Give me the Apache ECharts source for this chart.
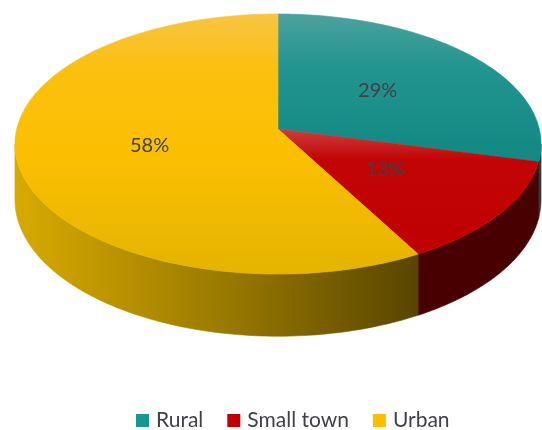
<!DOCTYPE html>
<html>
<head>
<meta charset="utf-8">
<script src="https://cdn.jsdelivr.net/npm/echarts@6/dist/echarts.min.js"></script>
<style>
  html, body { margin: 0; padding: 0; background: #fff; }
  #main { width: 542px; height: 430px; }
</style>
</head>
<body>
<div id="main"></div>
<script>
const categories = ["Rural", "Small town", "Urban"];
const values = [29, 13, 58];

const chart = echarts.init(document.getElementById("main"));

// look of the fake 3d pie
const legendColors = ["#1a9690", "#c00000", "#fbbf00"];
const topStops = [
  [[0, "#4da19d"], [0.2, "#239590"], [0.5, "#148a85"], [1, "#128884"]],
  [[0, "#d04040"], [0.45, "#cc3a3a"], [0.56, "#c20404"], [1, "#c00000"]],
  [[0, "#f8c444"], [0.2, "#fbc010"], [0.55, "#fbbf00"], [1, "#e4b400"]],
];
const sideStops = [
  [[0, "#0c5e5a"], [1, "#0a4e4b"]],
  [[0, "#520000"], [1, "#480000"]],
  [[0, "#d8aa00"], [0.5, "#9c7c00"], [1, "#594500"]],
];

// simple perspective: far half of the disc shrinks a little
const geo = { cx: 278, cy: 129, a: 261.3, b: 128.3, p: 0.1154, depth: 55 };
const edgeAngle = Math.acos(-geo.p); // where the outline is widest

const project = (t, f) => {
  const w = 1 + geo.p * f * Math.cos(t);
  return [geo.cx + (geo.a * f * Math.sin(t)) / w, geo.cy - (geo.b * f * Math.cos(t)) / w, w];
};

const arcPoints = (a, b) => {
  const pts = [];
  const n = Math.max(4, Math.ceil((b - a) / 0.02));
  for (let k = 0; k <= n; k++) pts.push(project(a + ((b - a) * k) / n, 1));
  return pts;
};

const renderSlice = (idx) => (params, api) => {
  const total = values.reduce((s, v) => s + v, 0);
  let before = 0;
  for (let j = 0; j < idx; j++) before += values[j];
  const a0 = (before / total) * Math.PI * 2;
  const a1 = ((before + api.value(0)) / total) * Math.PI * 2;

  const topFill = new echarts.graphic.LinearGradient(0, 14, 0, 274,
    topStops[idx].map(s => ({ offset: s[0], color: s[1] })), true);
  const children = [];

  // front wall, only the part below the widest points shows
  const s = Math.max(a0, edgeAngle), e = Math.min(a1, Math.PI * 2 - edgeAngle);
  if (e > s) {
    const upper = arcPoints(s, e);
    const lower = upper.map(p => [p[0], p[1] + geo.depth / p[2]]).reverse();
    const sideFill = new echarts.graphic.LinearGradient(15, 0, 417, 0,
      sideStops[idx].map(st => ({ offset: st[0], color: st[1] })), true);
    children.push({
      type: "polygon",
      z2: 1,
      shape: { points: upper.map(p => [p[0], p[1]]).concat(lower) },
      style: { fill: sideFill, stroke: sideFill, lineWidth: 0.6 },
    });
  }

  children.push({
    type: "polygon",
    z2: 10,
    shape: { points: [[geo.cx, geo.cy]].concat(arcPoints(a0, a1).map(p => [p[0], p[1]])) },
    style: { fill: topFill, stroke: topFill, lineWidth: 0.6 },
  });

  const lp = project((a0 + a1) / 2, 0.5);
  children.push({
    type: "text",
    z2: 20,
    x: lp[0],
    y: lp[1],
    style: {
      text: Math.round((api.value(0) / total) * 100) + "%",
      fill: "#404048",
      font: "20px Lato",
      align: "center",
      verticalAlign: "middle",
    },
  });

  return { type: "group", children: children };
};

option = {
  animation: false,
  legend: {
    top: 405,
    left: 131,
    icon: "rect",
    itemWidth: 13,
    itemHeight: 13,
    itemGap: 24,
    textStyle: { fontFamily: "Lato", fontSize: 21, color: "#404048", padding: [0, 0, 0, 2] },
    data: categories,
  },
  series: categories.map((name, i) => ({
    name: name,
    type: "custom",
    coordinateSystem: "none",
    itemStyle: { color: legendColors[i] },
    renderItem: renderSlice(i),
    data: [[values[i]]],
  })),
};

chart.setOption(option);
</script>
</body>
</html>
